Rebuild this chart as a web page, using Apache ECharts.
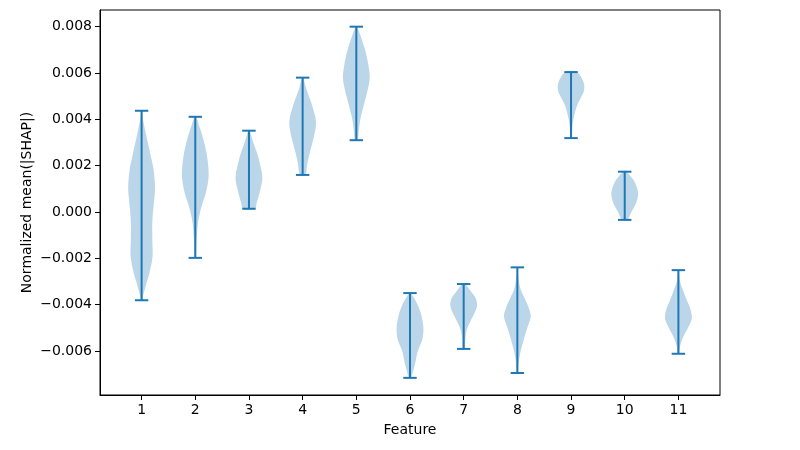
<!DOCTYPE html>
<html>
<head>
<meta charset="utf-8">
<script src="https://cdn.jsdelivr.net/npm/echarts@6/dist/echarts.min.js"></script>
</head>
<body style="margin:0;background:#fff">
<div id="main" style="width:800px;height:450px;"></div>
<script type="text/javascript">
// feature positions and extrema
var features = [1, 2, 3, 4, 5, 6, 7, 8, 9, 10, 11];
var extMax = [0.00437, 0.00411, 0.00351, 0.0058, 0.0080, -0.0035, -0.00311, -0.00239, 0.00604, 0.00174, -0.00251];
var extMin = [-0.00381, -0.00198, 0.00014, 0.0016, 0.0031, -0.00716, -0.00591, -0.00695, 0.00319, -0.00034, -0.00612];
var yTicks = [-0.006, -0.004, -0.002, 0, 0.002, 0.004, 0.006, 0.008];

// density outline per violin: [value, width relative to widest point], top to bottom
var profiles = [
    [[0.00437, 0.04], [0.0040, 0.1], [0.0033, 0.35], [0.0025, 0.65], [0.0018, 0.9], [0.0010, 1.0], [0.0003, 0.9],
     [-0.0004, 0.8], [-0.0012, 0.8], [-0.0019, 0.82], [-0.0026, 0.6], [-0.0032, 0.3], [-0.0036, 0.12], [-0.00381, 0.04]],
    [[0.00411, 0.05], [0.0037, 0.3], [0.0031, 0.62], [0.0024, 0.88], [0.0016, 1.0], [0.0009, 0.82], [0.0002, 0.45],
     [-0.0004, 0.22], [-0.0010, 0.12], [-0.0015, 0.08], [-0.00198, 0.04]],
    [[0.00351, 0.05], [0.0030, 0.32], [0.0024, 0.68], [0.0015, 1.0], [0.0009, 0.82], [0.0004, 0.58], [0.00014, 0.45]],
    [[0.0058, 0.05], [0.0053, 0.28], [0.0047, 0.65], [0.0039, 1.0], [0.0032, 0.82], [0.0026, 0.55], [0.0021, 0.35], [0.0016, 0.2]],
    [[0.0080, 0.05], [0.0076, 0.32], [0.0070, 0.65], [0.0064, 0.88], [0.0058, 1.0], [0.0052, 0.82], [0.0046, 0.55],
     [0.0040, 0.3], [0.0035, 0.18], [0.0031, 0.1]],
    [[-0.0035, 0.05], [-0.0039, 0.48], [-0.0044, 0.82], [-0.0050, 1.0], [-0.0055, 0.92], [-0.0060, 0.58], [-0.0065, 0.4],
     [-0.0069, 0.22], [-0.00716, 0.08]],
    [[-0.00311, 0.1], [-0.0034, 0.5], [-0.0037, 0.88], [-0.0040, 1.0], [-0.0043, 0.86], [-0.0047, 0.52], [-0.0051, 0.22],
     [-0.0055, 0.12], [-0.00591, 0.08]],
    [[-0.00239, 0.03], [-0.0028, 0.08], [-0.0033, 0.22], [-0.0037, 0.52], [-0.0041, 0.82], [-0.0045, 1.0], [-0.0050, 0.74],
     [-0.0055, 0.48], [-0.0060, 0.25], [-0.0065, 0.1], [-0.00695, 0.04]],
    [[0.00604, 0.42], [0.0058, 0.78], [0.0055, 0.98], [0.0052, 0.95], [0.0049, 0.7], [0.0046, 0.45], [0.0042, 0.25],
     [0.0038, 0.12], [0.0035, 0.08], [0.00319, 0.05]],
    [[0.00174, 0.1], [0.0015, 0.5], [0.0012, 0.82], [0.0008, 1.0], [0.0004, 0.86], [0.0000, 0.5], [-0.00034, 0.2]],
    [[-0.00251, 0.03], [-0.0030, 0.12], [-0.0034, 0.36], [-0.0038, 0.62], [-0.0042, 0.9], [-0.0046, 1.0], [-0.0050, 0.72],
     [-0.0054, 0.36], [-0.0058, 0.12], [-0.00612, 0.05]]
];

var halfWidth = 0.25;   // violin widths = 0.5
var capHalf = 0.125;
var blue = '#1f77b4';

function fmt(v) {
    var s = Math.abs(v).toFixed(3);
    return (v < -1e-9 ? '\u2212' : '') + s;
}

function renderViolin(params, api) {
    var i = params.dataIndex;
    var pos = features[i];
    var prof = profiles[i];
    var pts = [];
    for (var k = 0; k < prof.length; k++) {
        pts.push(api.coord([pos + prof[k][1] * halfWidth, prof[k][0]]));
    }
    for (var k = prof.length - 1; k >= 0; k--) {
        pts.push(api.coord([pos - prof[k][1] * halfWidth, prof[k][0]]));
    }
    var top = api.coord([pos, extMax[i]]);
    var bot = api.coord([pos, extMin[i]]);
    var tl = api.coord([pos - capHalf, extMax[i]]);
    var tr = api.coord([pos + capHalf, extMax[i]]);
    var bl = api.coord([pos - capHalf, extMin[i]]);
    var br = api.coord([pos + capHalf, extMin[i]]);
    var lineStyle = { stroke: blue, lineWidth: 2 };
    return {
        type: 'group',
        children: [
            { type: 'polygon', shape: { points: pts, smooth: 0.3 }, style: { fill: 'rgba(31,119,180,0.3)', stroke: null } },
            { type: 'line', shape: { x1: top[0], y1: top[1], x2: bot[0], y2: bot[1] }, style: lineStyle },
            { type: 'line', shape: { x1: tl[0], y1: tl[1], x2: tr[0], y2: tr[1] }, style: lineStyle },
            { type: 'line', shape: { x1: bl[0], y1: bl[1], x2: br[0], y2: br[1] }, style: lineStyle }
        ]
    };
}

var myChart = echarts.init(document.getElementById('main'));
myChart.setOption({
    animation: false,
    textStyle: { fontFamily: 'DejaVu Sans' },
    grid: { left: 100, right: 80, top: 10, bottom: 55, show: true, borderColor: '#000', borderWidth: 1 },
    xAxis: {
        type: 'value',
        min: 0.225,
        max: 11.775,
        name: 'Feature',
        nameLocation: 'middle',
        nameGap: 28,
        nameMoveOverlap: false,
        nameTextStyle: { color: '#000', fontSize: 14 },
        splitLine: { show: false },
        axisLine: { onZero: false, lineStyle: { color: '#000' } },
        axisTick: { length: 5, lineStyle: { color: '#000' }, customValues: features },
        axisLabel: { color: '#000', fontSize: 14, margin: 8, customValues: features }
    },
    yAxis: {
        type: 'value',
        min: -0.0079,
        max: 0.00872,
        name: 'Normalized mean(|SHAP|)',
        nameLocation: 'middle',
        nameGap: 66,
        nameMoveOverlap: false,
        nameTextStyle: { color: '#000', fontSize: 14 },
        splitLine: { show: false },
        axisLine: { show: true, onZero: false, lineStyle: { color: '#000' } },
        axisTick: { show: true, length: 5, lineStyle: { color: '#000' }, customValues: yTicks },
        axisLabel: { color: '#000', fontSize: 14, margin: 8, customValues: yTicks, formatter: fmt }
    },
    series: [{
        type: 'custom',
        renderItem: renderViolin,
        data: features.map(function (f, i) { return [f, extMin[i], extMax[i]]; }),
        encode: { x: 0, y: [1, 2] }
    }]
});
</script>
</body>
</html>
